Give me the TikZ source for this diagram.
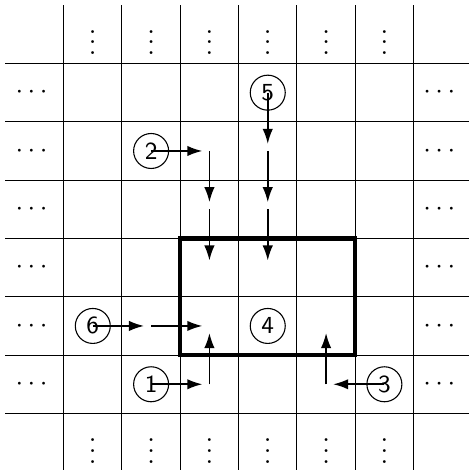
\documentclass[tikz,border=0pt]{standalone}
\usetikzlibrary{arrows.meta}
\begin{document}
\begin{tikzpicture}[x=0.75cm,y=-0.75cm,
  gridline/.style={line width=0.4pt},
  boldbox/.style={line width=1.5pt},
  arr/.style={line width=0.6pt,-{Latex[length=5.5pt,width=3.8pt]},shorten >=2.6pt},
  num/.style={circle,draw,line width=0.4pt,minimum size=12.8pt,inner sep=0pt,font=\sffamily\fontsize{9}{10.8}\selectfont},
  dotsn/.style={inner sep=0pt}]
\useasboundingbox (-0.091,-0.089) rectangle (7.954,7.97);
% grid
\foreach \i in {1,...,7} {
  \draw[gridline] (\i,0) -- (\i,7.97);
  \draw[gridline] (0,\i) -- (7.954,\i);
}
% region
\draw[boldbox] (3,4) rectangle (6,6);
% dots
\foreach \c in {1,...,6} {
  \node[dotsn] (vt\c) at (\c+0.5,0.5) {$\vdots$};
  \node[dotsn] (vb\c) at (\c+0.5,7.5) {$\vdots$};
}
\foreach \r in {1,...,6} {
  \node[dotsn] (hl\r) at (0.45,\r+0.5) {$\cdots$};
  \node[dotsn] (hr\r) at (7.44,\r+0.5) {$\cdots$};
}
% numbered cells
\node[num] (n1) at (2.5,6.5) {1};
\node[num] (n2) at (2.5,2.5) {2};
\node[num] (n3) at (6.5,6.5) {3};
\node[num] (n4) at (4.5,5.5) {4};
\node[num] (n5) at (4.5,1.5) {5};
\node[num] (n6) at (1.5,5.5) {6};
% cell centres
\coordinate (a32) at (3.5,2.5);
\coordinate (a33) at (3.5,3.5);
\coordinate (a34) at (3.5,4.5);
\coordinate (a42) at (4.5,2.5);
\coordinate (a43) at (4.5,3.5);
\coordinate (a44) at (4.5,4.5);
\coordinate (a25) at (2.5,5.5);
\coordinate (a35) at (3.5,5.5);
\coordinate (a36) at (3.5,6.5);
\coordinate (a56) at (5.5,6.5);
\coordinate (a55) at (5.5,5.5);
% arrows
\draw[arr] (n2.center) -- (a32);
\draw[arr] (a32) -- (a33);
\draw[arr] (a33) -- (a34);
\draw[arr] (n5.center) -- (a42);
\draw[arr] (a42) -- (a43);
\draw[arr] (a43) -- (a44);
\draw[arr] (n6.center) -- (a25);
\draw[arr] (a25) -- (a35);
\draw[arr] (n1.center) -- (a36);
\draw[arr] (a36) -- (a35);
\draw[arr] (n3.center) -- (a56);
\draw[arr] (a56) -- (a55);
\end{tikzpicture}
\end{document}
